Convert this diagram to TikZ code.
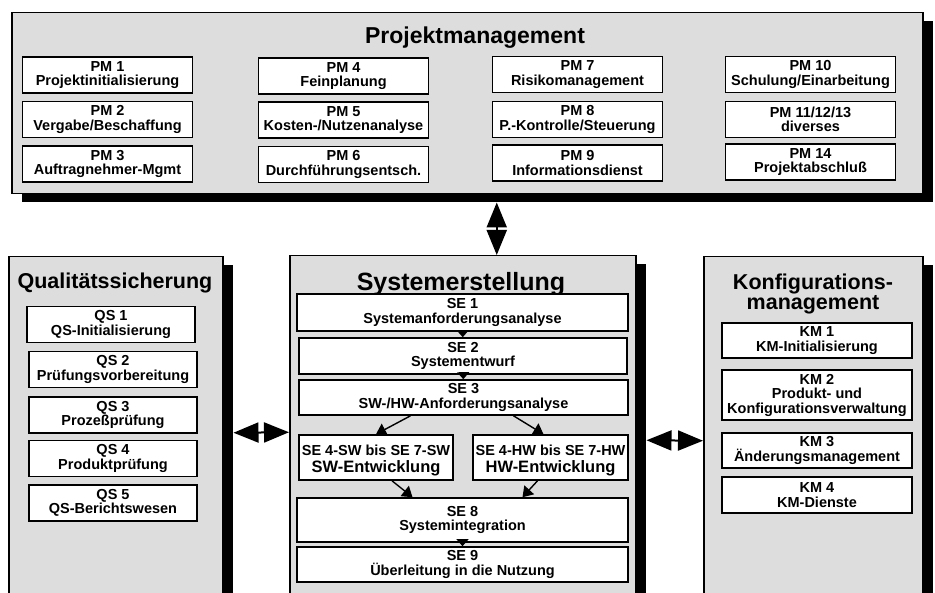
\documentclass[tikz,border=0pt]{standalone}
\usepackage{fontspec}
\setmainfont{Liberation Sans}
\usepackage{tikz}
\usetikzlibrary{arrows.meta,shadows}
\definecolor{panelgrey}{RGB}{221,221,221}
\newcommand{\itemfont}{\bfseries\fontsize{14.5}{14.5}\selectfont}
\newcommand{\devfont}{\fontsize{16.5}{16.5}\selectfont}
\newcommand{\headfont}[1]{\bfseries\fontsize{#1}{#1}\selectfont}
\tikzset{
	panel/.style={draw, line width=1.5pt, fill=panelgrey, anchor=north west, inner sep=0pt,
		drop shadow={shadow xshift=10pt, shadow yshift=-8pt, fill=black, opacity=1}},
	paneltitle/.style={align=center, inner sep=0pt},
	taskbox/.style={draw, line width=1.6pt, fill=white, align=center, inner sep=0pt, font=\itemfont},
	pmbox/.style={taskbox, minimum width=170pt, minimum height=36pt},
	qsbox/.style={taskbox, minimum width=168pt, minimum height=36pt},
	kmbox/.style={taskbox, minimum width=190pt, minimum height=35pt},
	sebox/.style={taskbox, minimum width=331pt, minimum height=36pt},
	flow/.style={line width=1.2pt, -{Triangle[width=12pt,length=7pt]}},
	branch/.style={line width=1.4pt, -{Triangle[width=13pt,length=10pt]}},
	link/.style={line width=2pt, {Triangle[width=20pt,length=25pt]}-{Triangle[width=20pt,length=25pt]}},
}
\begin{document}
\begin{tikzpicture}[x=1pt,y=-1pt]
	\useasboundingbox (0,0) rectangle (935,593);
	\clip (0,0) rectangle (935,593);
	
	\node[panel, minimum width=911pt, minimum height=181pt] (pm) at (11,12) {};
	\node[panel, minimum width=214pt, minimum height=352pt] (qs) at (8,256) {};
	\node[panel, minimum width=346pt, minimum height=353pt] (se) at (289,255) {};
	\node[panel, minimum width=219pt, minimum height=352pt] (km) at (703,256) {};
	
	\node[paneltitle, font=\headfont{23}, anchor=base] (pmtitle) at (475,44) {Projektmanagement};
	\node[paneltitle, font=\headfont{21.5}, anchor=base] (qstitle) at (115,289) {Qualitätssicherung};
	\node[paneltitle, font=\headfont{25}, anchor=base] (setitle) at (461,291) {Systemerstellung};
	\node[paneltitle, font=\headfont{21.5}] (kmtitle) at (813,294) {Konfigurations-\\[-1.5pt]management};
	
	\node[pmbox] (pm1) at (107.5,75) {PM 1\\Projektinitialisierung};
	\node[pmbox] (pm2) at (107.5,119.5) {PM 2\\Vergabe/Beschaffung};
	\node[pmbox] (pm3) at (107.5,164) {PM 3\\Auftragnehmer-Mgmt};
	\node[pmbox] (pm4) at (343.5,76) {PM 4\\Feinplanung};
	\node[pmbox] (pm5) at (343.5,120) {PM 5\\Kosten-/Nutzenanalyse};
	\node[pmbox] (pm6) at (343.5,164.5) {PM 6\\Durchführungsentsch.};
	\node[pmbox] (pm7) at (577.5,74.5) {PM 7\\Risikomanagement};
	\node[pmbox] (pm8) at (577.5,119.5) {PM 8\\P.-Kontrolle/Steuerung};
	\node[pmbox] (pm9) at (577.5,163) {PM 9\\Informationsdienst};
	\node[pmbox] (pm10) at (810.5,74.5) {PM 10\\Schulung/Einarbeitung};
	\node[pmbox] (pm11) at (810.5,119.5) {PM 11/12/13\\diverses};
	\node[pmbox] (pm14) at (810.5,162) {PM 14\\Projektabschluß};
	
	\node[qsbox] (qs1) at (111,324.5) {QS 1\\QS-Initialisierung};
	\node[qsbox] (qs2) at (113,369.5) {QS 2\\Prüfungsvorbereitung};
	\node[qsbox] (qs3) at (113,415) {QS 3\\Prozeßprüfung};
	\node[qsbox] (qs4) at (113,458.5) {QS 4\\Produktprüfung};
	\node[qsbox] (qs5) at (113,503) {QS 5\\QS-Berichtswesen};
	
	\node[kmbox] (km1) at (817,340.5) {KM 1\\KM-Initialisierung};
	\node[kmbox, minimum height=50pt] (km2) at (817,395) {KM 2\\Produkt- und\\Konfigurationsverwaltung};
	\node[kmbox] (km3) at (817,450.5) {KM 3\\Änderungsmanagement};
	\node[kmbox, minimum height=36pt] (km4) at (817,495) {KM 4\\KM-Dienste};
	
	\node[sebox, minimum height=37pt] (se1) at (462.5,312.5) {SE 1\\Systemanforderungsanalyse};
	\node[sebox, minimum width=328pt] (se2) at (463,356) {SE 2\\Systementwurf};
	\node[sebox, minimum width=329pt, minimum height=35pt] (se3) at (463.5,397.5) {SE 3\\SW-/HW-Anforderungsanalyse};
	\node[taskbox, minimum width=154pt, minimum height=45pt] (sw) at (376,457.5) {\rule{0pt}{17pt}SE 4-SW bis SE 7-SW\\[2.5pt]{\devfont SW-Entwicklung}};
	\node[taskbox, minimum width=155pt, minimum height=45pt] (hw) at (550.5,457.5) {\rule{0pt}{17pt}SE 4-HW bis SE 7-HW\\[2.5pt]{\devfont HW-Entwicklung}};
	\node[sebox, minimum height=44pt] (se8) at (462.5,520) {SE 8\\Systemintegration};
	\node[sebox, minimum height=35pt] (se9) at (462.5,564.5) {SE 9\\Überleitung in die Nutzung};
	
	\draw[flow] (se1) -- (se2);
	\draw[flow] (se2) -- (se3);
	\draw[branch] ([xshift=-53pt]se3.south) -- (sw.north);
	\draw[branch] ([xshift=50pt]se3.south) -- ([xshift=-7pt]hw.north);
	\draw[branch] ([xshift=16pt]sw.south) -- ([xshift=-50pt]se8.north);
	\draw[branch] ([xshift=-13pt]hw.south) -- ([xshift=60pt]se8.north);
	\draw[flow] (se8) -- (se9);
	
	\draw[link] ([xshift=29.5pt,yshift=-8pt]pm.south) -- ([xshift=29.5pt]pm.south |- se.north);
	\draw[link] ([xshift=10pt]qs.east) -- (se.west);
	\draw[link] ([xshift=10pt,yshift=-8pt]se.east) -- ([yshift=-8pt]km.west);
\end{tikzpicture}
\end{document}
